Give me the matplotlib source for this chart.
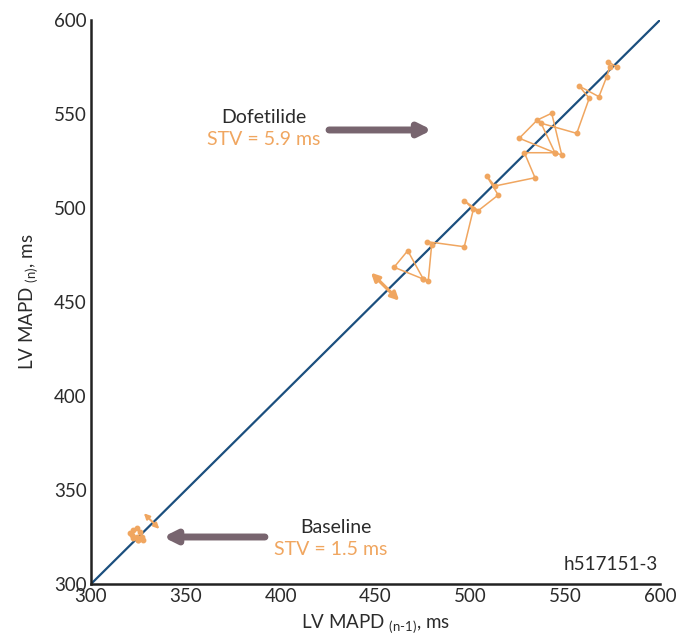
import matplotlib
matplotlib.use("Agg")
import matplotlib.pyplot as plt

plt.rcParams['font.family'] = ['Lato', 'DejaVu Sans']
plt.rcParams['mathtext.fontset'] = 'custom'
plt.rcParams['mathtext.rm'] = 'Lato'
plt.rcParams['mathtext.it'] = 'Lato:italic'

# Dofetilide Poincaré trace (MAPD n-1, MAPD n), in drawing order
dof_x = [475.2, 459.8, 467.0, 475.2, 477.8, 479.6, 477.2, 496.8, 501.6, 496.8,
         504.2, 514.7, 508.6, 513.0, 534.1, 528.5, 544.6, 525.8, 535.3, 542.9,
         548.2, 544.6, 537.3, 556.1, 562.7, 557.3, 567.8, 571.9, 573.6, 572.7, 577.5]
dof_y = [462.2, 468.5, 477.3, 462.2, 461.2, 480.3, 482.1, 479.4, 499.3, 503.9,
         498.6, 506.9, 517.0, 511.7, 516.1, 529.4, 529.4, 537.1, 546.8, 550.4,
         528.2, 529.4, 545.1, 539.7, 558.4, 564.9, 559.2, 569.8, 575.2, 577.8, 574.8]

# Baseline trace
base_x = [320.6, 322.3, 324.1, 325.8, 326.7, 324.9, 322.3, 321.5, 324.1, 327.6, 324.9]
base_y = [327.0, 328.7, 329.6, 327.8, 325.2, 323.4, 324.3, 326.1, 325.2, 323.4, 323.4]

ticks = [300, 350, 400, 450, 500, 550, 600]

ORANGE = '#F0A660'
BLUE = '#1B4F7E'
GRAY_ARROW = '#78656F'
TEXT = '#2b2b2b'

fig = plt.figure(figsize=(6.92, 6.36), dpi=100)
ax = fig.add_axes([91/692, 52/636, 569/692, 564/636])

ax.set_xlim(300, 600)
ax.set_ylim(300, 600)

# identity line
ax.plot([300, 600], [300, 600], color=BLUE, lw=1.6, zorder=2)

ax.plot(dof_x, dof_y, color=ORANGE, lw=1.1, marker='o', ms=3.2, zorder=3)
ax.plot(base_x, base_y, color=ORANGE, lw=1.1, marker='o', ms=3.2, zorder=3)

# STV double arrows
ax.annotate('', xy=(447.6, 465.6), xytext=(462.5, 450.7),
            arrowprops=dict(arrowstyle='<|-|>', color=ORANGE, lw=2.4,
                            mutation_scale=12, shrinkA=0, shrinkB=0), zorder=4)
ax.annotate('', xy=(327.9, 337.6), xytext=(336.0, 329.3),
            arrowprops=dict(arrowstyle='<|-|>', color=ORANGE, lw=1.5,
                            mutation_scale=8, shrinkA=0, shrinkB=0), zorder=4)

# gray pointer arrows
ax.annotate('', xy=(479.8, 541.5), xytext=(425.5, 541.5),
            arrowprops=dict(arrowstyle='-|>', color=GRAY_ARROW, lw=5,
                            mutation_scale=18, shrinkA=0, shrinkB=0))
ax.annotate('', xy=(338.0, 325.0), xytext=(391.7, 325.0),
            arrowprops=dict(arrowstyle='-|>', color=GRAY_ARROW, lw=5,
                            mutation_scale=18, shrinkA=0, shrinkB=0))

ax.text(391.2, 548.4, 'Dofetilide', ha='center', va='center', fontsize=14, color=TEXT)
ax.text(391.2, 536.7, 'STV = 5.9 ms', ha='center', va='center', fontsize=14, color=ORANGE)
ax.text(429.2, 330.3, 'Baseline', ha='center', va='center', fontsize=14, color=TEXT)
ax.text(426.5, 318.6, 'STV = 1.5 ms', ha='center', va='center', fontsize=14, color=ORANGE)
ax.text(599, 310.5, 'h517151-3', ha='right', va='center', fontsize=13.5, color=TEXT)

ax.set_xticks(ticks)
ax.set_yticks(ticks)
ax.set_xticklabels([str(t) for t in ticks])
ax.set_yticklabels([str(t) for t in ticks])
ax.tick_params(length=0, labelsize=13.5, colors=TEXT, pad=3)

for s in ['top', 'right']:
    ax.spines[s].set_visible(False)
for s in ['left', 'bottom']:
    ax.spines[s].set_linewidth(1.8)
    ax.spines[s].set_color('#222222')

ax.set_xlabel(r'LV MAPD $_{\mathrm{(n\text{-}1)}}$, ms', fontsize=13.5, color=TEXT, labelpad=5)
ax.set_ylabel(r'LV MAPD $_{\mathrm{(n)}}$, ms', fontsize=13.5, color=TEXT, labelpad=10)

fig.savefig('out.png', dpi=100)
